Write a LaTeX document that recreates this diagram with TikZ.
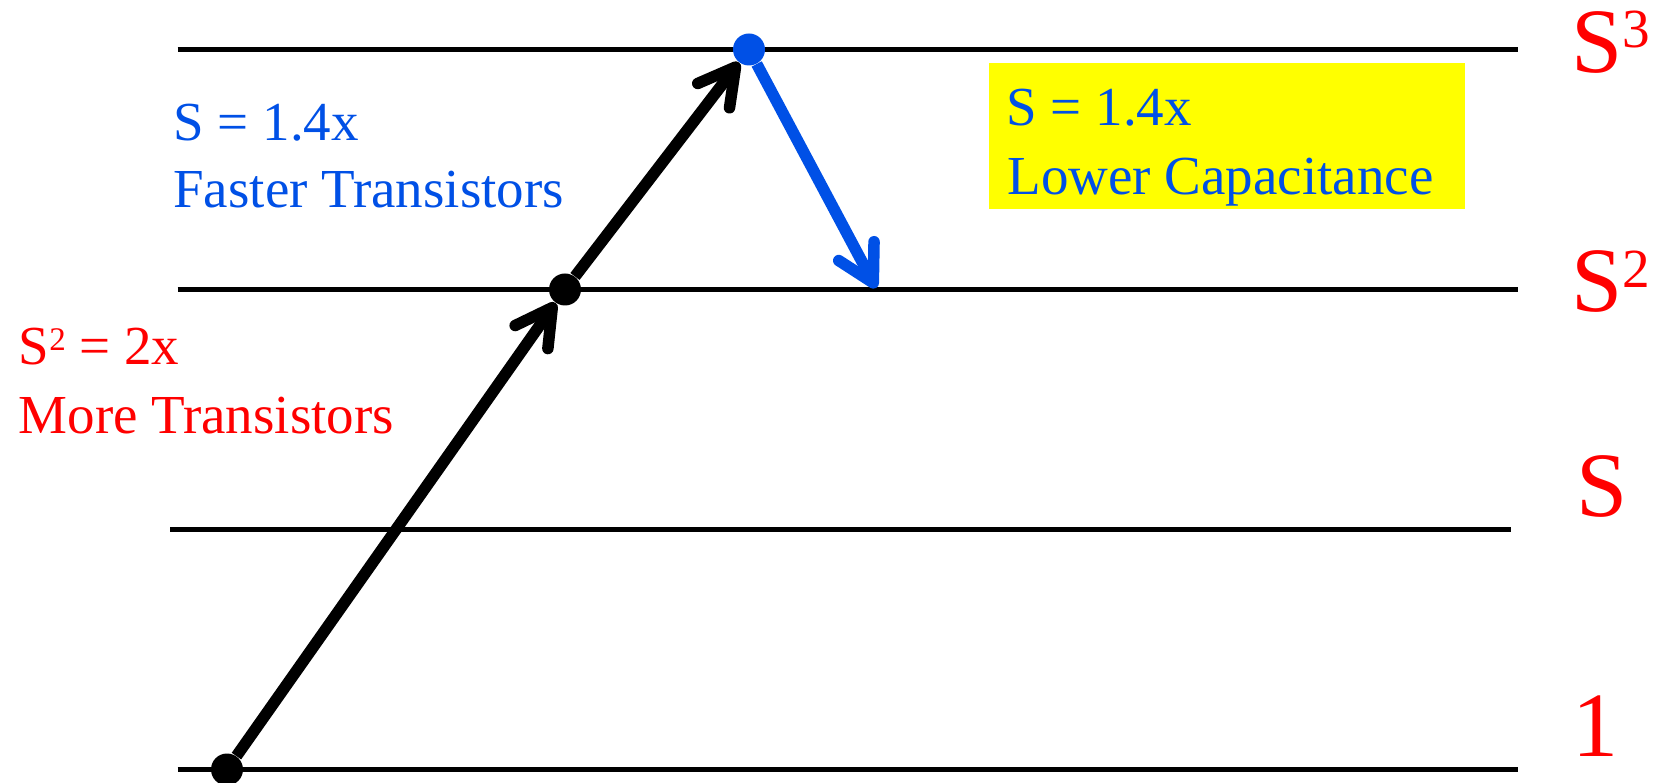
\documentclass[tikz,border=0pt]{standalone}
\usepackage{fontspec}
\setmainfont{Liberation Serif}
\usepackage{graphicx}
\usetikzlibrary{arrows.meta}
\definecolor{ppblue}{RGB}{0,80,230}
\definecolor{ppred}{RGB}{255,0,0}
\definecolor{ppyellow}{RGB}{255,255,0}
\newcommand\pwr[1]{\raisebox{0.27em}{\scalebox{0.6}{#1}}}

\begin{document}
\begin{tikzpicture}[x=0.5pt, y=0.5pt,
        level/.style={line width=2.75pt},
        dot/.style={circle, fill, inner sep=0pt, minimum size=16pt},
        txt/.style={anchor=base west, inner sep=0pt, font=\fontsize{27.5}{34}\selectfont},
        big/.style={anchor=base west, inner sep=0pt, text=ppred, font=\fontsize{46}{50}\selectfont},
        jump/.style={line width=5.75pt, -{Straight Barb[length=18pt, width=20pt, round]}}]
    \useasboundingbox (0,0) rectangle (1657,782);
    % the four levels
    \foreach \y/\a/\b in {732.5/177.5/1518, 492.5/177.5/1518, 252.5/170/1511, 12.5/177.5/1518} {
        \draw[level] (\a,\y) -- (\b,\y);
    }
    \node[big] (lthree) at (1571,709.7) {S\pwr{3}};
    \node[big] (ltwo) at (1571,470) {S\pwr{2}};
    \node[big] (lone) at (1576,266) {S};
    \node[big] (lzero) at (1572,26) {1};

    % left texts
    \node[txt, text=ppblue] (fastval) at (173,641.3) {S = 1.4x};
    \node[txt, text=ppblue] (fasttxt) at (173,574) {Faster Transistors};
    \node[txt, text=ppred] (moreval) at (18.5,417) {S\pwr{2} = 2x};
    \node[txt, text=ppred] (moretxt) at (18.3,349) {More Transistors};

    % yellow box
    \fill[ppyellow] (989,573) rectangle (1465,719.3);
    \node[txt, text=ppblue] (capval) at (1006,656) {S = 1.4x};
    \node[txt, text=ppblue] (captxt) at (1007,587) {Lower Capacitance};

    % path
    \node[dot] (d1) at (227,12.5) {};
    \node[dot] (d2) at (565,492.5) {};
    \node[dot, ppblue] (d3) at (749,732.5) {};
    \coordinate (bend) at (876,494);
    \draw[jump] (d1) -- (d2);
    \draw[jump] (d2) -- (d3);
    \draw[jump, ppblue] (d3) -- (bend);
\end{tikzpicture}
\end{document}
